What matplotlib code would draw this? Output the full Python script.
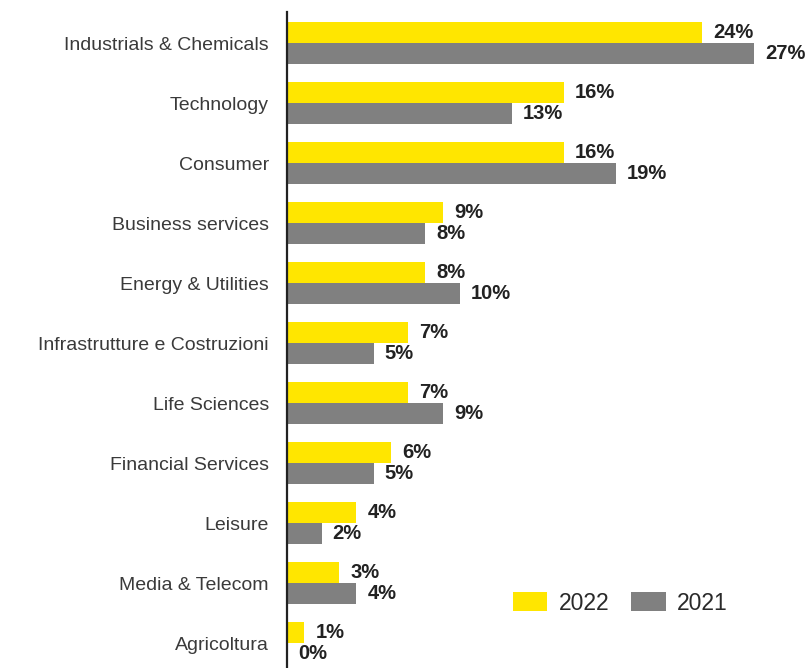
import matplotlib
matplotlib.use("Agg")
import matplotlib.pyplot as plt
import numpy as np

plt.rcParams["font.family"] = ["Liberation Sans", "DejaVu Sans"]

# Sector shares of deals, 2022 vs 2021 (percent)
sectors = [
    "Industrials & Chemicals",
    "Technology",
    "Consumer",
    "Business services",
    "Energy & Utilities",
    "Infrastrutture e Costruzioni",
    "Life Sciences",
    "Financial Services",
    "Leisure",
    "Media & Telecom",
    "Agricoltura",
]
share_2022 = [24, 16, 16, 9, 8, 7, 7, 6, 4, 3, 1]
share_2021 = [27, 13, 19, 8, 10, 5, 9, 5, 2, 4, 0]

YELLOW = "#FFE600"
GREY = "#808080"

fig = plt.figure(figsize=(8.06, 6.68), dpi=100)
W, H = 806, 668
ax_left, ax_right = 287, 806
ax_top, ax_bottom = 12, 668
ax = fig.add_axes([ax_left / W, 1 - ax_bottom / H,
                   (ax_right - ax_left) / W, (ax_bottom - ax_top) / H])

y = np.arange(len(sectors))
h = 0.35
ax.barh(y - h / 2, share_2022, height=h, color=YELLOW, label="2022")
ax.barh(y + h / 2, share_2021, height=h, color=GREY, label="2021")

ax.set_xlim(0, 30)
ax.set_ylim(10 + 25 / 60, -31 / 60)

value_style = dict(va="center", ha="left", fontsize=14.5, fontweight="bold",
                   color="#222222", textcoords="offset points", xytext=(8, 0))
for yi, v in zip(y, share_2022):
    ax.annotate(f"{v}%", (v, yi - h / 2), **value_style)
for yi, v in zip(y, share_2021):
    ax.annotate(f"{v}%", (v, yi + h / 2), **value_style)

ax.set_yticks(y)
ax.set_yticklabels(sectors, fontsize=14, color="#3a3a3a")
ax.tick_params(axis="y", length=0, pad=13)
ax.set_xticks([])
for side in ("top", "right", "bottom"):
    ax.spines[side].set_visible(False)
ax.spines["left"].set_linewidth(1.6)
ax.spines["left"].set_color("#222222")

fig.legend(loc="center left", bbox_to_anchor=(513 / W, 1 - 603 / H), ncol=2,
           frameon=False, fontsize=16.5, handlelength=1.5, handleheight=0.85,
           handletextpad=0.5, columnspacing=0.95, borderpad=0, borderaxespad=0,
           labelcolor="#2a2a2a")

fig.savefig("out.png", dpi=100, facecolor="white")
